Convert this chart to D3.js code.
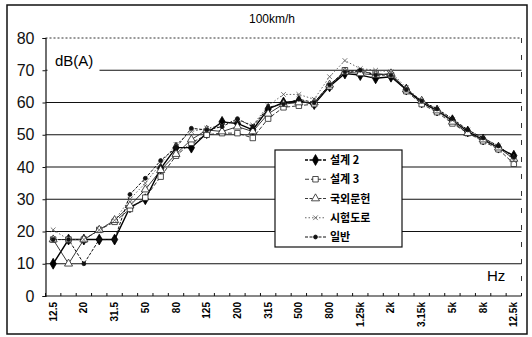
<!DOCTYPE html>
<html>
<head>
<meta charset="utf-8">
<script src="https://cdn.jsdelivr.net/npm/d3@7"></script>
<style>
  body { margin: 0; background: #fff; }
  svg { display: block; }
</style>
</head>
<body>
<svg id="chart" width="532" height="337"></svg>
<script>
// 1/3 octave bands
const bands = ["12.5","16","20","25","31.5","40","50","63","80","100","125","160","200","250","315","400","500","630","800","1k","1.25k","1.6k","2k","2.5k","3.15k","4k","5k","6.3k","8k","10k","12.5k"];
const tickLabels = ["12.5","20","31.5","50","80","125","200","315","500","800","1.25k","2k","3.15k","5k","8k","12.5k"];
const yTicks = [0, 10, 20, 30, 40, 50, 60, 70, 80];

const design2   = [10,17.5,17.5,17.5,17.5,27.5,30,39.5,46,46,50.5,54,53.5,51.5,58,60,60.5,59.5,65,69,68.5,67.5,68,64,60,57.5,54.5,51,48.5,46,43.5];
const design3   = [17.5,17.5,17.5,20.5,23,27,30.5,37,43.5,47.5,50,50.5,50.5,49,55,58.5,59,59.5,65,70,69.5,69,68.5,63.5,59.5,57,53.5,50.5,48,45.5,41];
const foreign   = [17.5,10,17.5,20.5,23.5,28,33,39,44,48.5,51.5,51,52.5,51,56.5,59.5,60,60,65.5,69.5,69,68.5,69,64,60.5,57.5,54,50.5,48.5,46,42.5];
const testRoad  = [20.5,17.5,17.5,20.5,23.5,30,35,41,47,51,52,53,54.5,53,59,62.5,62.5,61,68,73,70.5,70,69.5,64.5,60.5,58,54.5,51.5,49,46.5,42];
const general   = [17.5,17.5,10,17.5,17.5,31.5,36.5,42,46,52,51.5,52.5,55,52.5,58.5,59.5,61,60,65.5,69.5,70,68.5,68.5,64,60.5,58,55,51.5,49,46.5,43];

const seriesNames = ["설계 2", "설계 3", "국외문헌", "시험도로", "일반"];
const seriesData = [design2, design3, foreign, testRoad, general];

const svg = d3.select("#chart");
const font = "'Liberation Sans', Arial, sans-serif";
const krFont = "'Noto Sans CJK KR', sans-serif";

// outer frame
svg.append("rect").attr("x", 7).attr("y", 5).attr("width", 520).attr("height", 329)
  .attr("fill", "#fff").attr("stroke", "#111").attr("stroke-width", 1.5);

const plotLeft = 45.5, plotRight = 521.5, plotTop = 38, plotBottom = 296;
const x = d3.scaleBand().domain(bands).range([plotLeft, plotRight]).padding(0);
const y = d3.scaleLinear().domain([0, 80]).range([plotBottom, plotTop]);
const cx = d => x(d) + x.bandwidth() / 2;

// title
svg.append("text").attr("x", 272).attr("y", 23).attr("text-anchor", "middle")
  .attr("font-family", font).attr("font-size", 12).text("100km/h");

// gridlines
svg.append("g").selectAll("line").data(yTicks.filter(t => t > 0 && t < 80)).join("line")
  .attr("x1", plotLeft).attr("x2", plotRight)
  .attr("y1", d => y(d)).attr("y2", d => y(d))
  .attr("stroke", "#111").attr("stroke-width", 1.2);
// top dotted and right dashed edges
svg.append("line").attr("x1", plotLeft).attr("x2", plotRight).attr("y1", y(80)).attr("y2", y(80))
  .attr("stroke", "#333").attr("stroke-dasharray", "2,2");
svg.append("line").attr("x1", plotRight).attr("x2", plotRight).attr("y1", y(80)).attr("y2", y(0))
  .attr("stroke", "#333").attr("stroke-dasharray", "5,12");

// dB(A) label with white knock-out
svg.append("rect").attr("x", plotLeft + 2).attr("y", 50).attr("width", 52).attr("height", 26).attr("fill", "#fff");
svg.append("text").attr("x", 55).attr("y", 66).attr("font-family", font).attr("font-size", 15).text("dB(A)");

// Hz label
svg.append("text").attr("x", 487).attr("y", 281).attr("font-family", font).attr("font-size", 15).text("Hz");

// y axis
const yAxis = svg.append("g").attr("transform", `translate(${plotLeft},0)`)
  .call(d3.axisLeft(y).tickValues(yTicks).tickSize(3).tickPadding(8));
yAxis.select(".domain").attr("stroke", "#111").attr("stroke-width", 1.2);
yAxis.selectAll(".tick line").attr("stroke", "#111");
yAxis.selectAll("text").attr("font-family", font).attr("font-size", 16).attr("fill", "#111");

// x axis
const xAxis = svg.append("g").attr("transform", `translate(0,${plotBottom})`);
xAxis.append("line").attr("x1", plotLeft).attr("x2", plotRight).attr("stroke", "#111").attr("stroke-width", 1.2);
xAxis.selectAll("line.tk").data(d3.range(bands.length + 1)).join("line").attr("class", "tk")
  .attr("x1", i => plotLeft + i * x.bandwidth()).attr("x2", i => plotLeft + i * x.bandwidth())
  .attr("y1", 0).attr("y2", -3).attr("stroke", "#111");
xAxis.selectAll("text").data(tickLabels).join("text")
  .attr("transform", d => `translate(${cx(d) + 3.5},6) rotate(-90)`)
  .attr("text-anchor", "end")
  .attr("font-family", font).attr("font-size", 10).attr("font-weight", "bold")
  .text(d => d);

// series styles
const styles = [
  { width: 1.4, dash: null, color: "#000", marker: "diamond", size: 34, fill: "#000" },
  { width: 0.9, dash: "4,2", color: "#222", marker: "square", size: 30, fill: "#fff" },
  { width: 0.9, dash: null, color: "#222", marker: "triangle", size: 28, fill: "#fff" },
  { width: 0.9, dash: "1.5,2", color: "#555", marker: "cross", size: 16, fill: "#555" },
  { width: 1.0, dash: "3,1.5", color: "#111", marker: "circle", size: 12, fill: "#111" }
];
const symType = { diamond: d3.symbolDiamond, square: d3.symbolSquare, triangle: d3.symbolTriangle, cross: d3.symbolTimes, circle: d3.symbolCircle };

const line = d3.line().x((v, i) => cx(bands[i])).y(v => y(v));
const plot = svg.append("g");
seriesData.forEach((vals, k) => {
  const s = styles[k];
  plot.append("path").datum(vals)
    .attr("fill", "none").attr("stroke", s.color).attr("stroke-width", s.width)
    .attr("stroke-dasharray", s.dash).attr("d", line);
});
seriesData.forEach((vals, k) => {
  const s = styles[k];
  plot.append("g").selectAll("path").data(vals).join("path")
    .attr("transform", (v, i) => `translate(${cx(bands[i])},${y(v)})`)
    .attr("d", d3.symbol().type(symType[s.marker]).size(s.size))
    .attr("fill", s.marker === "cross" ? "none" : s.fill)
    .attr("stroke", s.color).attr("stroke-width", 0.8);
});

// legend
const lg = svg.append("g");
lg.append("rect").attr("x", 275).attr("y", 150).attr("width", 127).attr("height", 97)
  .attr("fill", "#fff").attr("stroke", "#111").attr("stroke-width", 1.2);
const ly = d3.scalePoint().domain(seriesNames).range([160, 237]);
seriesNames.forEach((name, k) => {
  const s = styles[k];
  const yy = ly(name);
  lg.append("line").attr("x1", 305).attr("x2", 326).attr("y1", yy).attr("y2", yy)
    .attr("stroke", s.color).attr("stroke-width", s.width).attr("stroke-dasharray", s.dash || "3,1.5");
  lg.append("path").attr("transform", `translate(315.5,${yy})`)
    .attr("d", d3.symbol().type(symType[s.marker]).size(s.size))
    .attr("fill", s.marker === "cross" ? "none" : s.fill)
    .attr("stroke", s.color).attr("stroke-width", 0.8);
  lg.append("text").attr("x", 330).attr("y", yy + 4)
    .attr("font-family", krFont).attr("font-size", 11).attr("font-weight", "bold")
    .text(name);
});
</script>
</body>
</html>
